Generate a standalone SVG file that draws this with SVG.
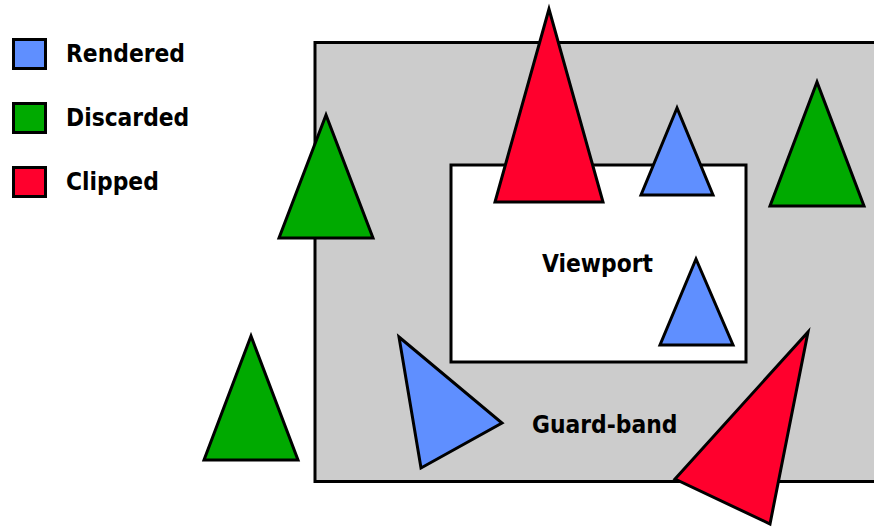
<svg xmlns="http://www.w3.org/2000/svg" width="874" height="527" viewBox="0 0 874 527">
<style>
.s{stroke:#000;stroke-width:3;stroke-linejoin:miter}
.b{fill:#5f8fff}
.g{fill:#00aa00}
.r{fill:#ff002d}
text{font-family:"DejaVu Sans Condensed","DejaVu Sans",sans-serif;font-stretch:condensed;font-weight:bold;font-size:24.3px;fill:#000}
</style>
<rect width="874" height="527" fill="#fff"/>
<g id="legend">
<rect class="s b" x="13.5" y="39.5" width="32" height="29"/>
<text x="66" y="62">Rendered</text>
<rect class="s g" x="13.5" y="103.5" width="32" height="29"/>
<text x="66" y="126">Discarded</text>
<rect class="s r" x="13.5" y="167.5" width="32" height="29"/>
<text x="66" y="190">Clipped</text>
</g>
<g id="guardband">
<rect class="s" fill="#cccccc" x="315" y="42.5" width="580" height="439"/>
<text x="532" y="433">Guard-band</text>
</g>
<g id="viewport">
<rect class="s" fill="#fff" x="451" y="165" width="295" height="197"/>
<text x="542" y="272">Viewport</text>
</g>
<g id="tri-red-top"><polygon class="s r" points="549,9 495,202 603,202"/></g>
<g id="tri-green-left"><polygon class="s g" points="326,115 279,238 373,238"/></g>
<g id="tri-blue-top"><polygon class="s b" points="677,108 641,195 713,195"/></g>
<g id="tri-green-right"><polygon class="s g" points="817,82 770,206 864,206"/></g>
<g id="tri-blue-view"><polygon class="s b" points="696,259 660,345 733,345"/></g>
<g id="tri-green-bottom"><polygon class="s g" points="251,336 204,460 298,460"/></g>
<g id="tri-blue-rot"><polygon class="s b" points="399,337 502,423 421,468"/></g>
<g id="tri-red-bottom"><polygon class="s r" points="808,332 675,479 770,524"/></g>
<g id="connectors"/>
</svg>
